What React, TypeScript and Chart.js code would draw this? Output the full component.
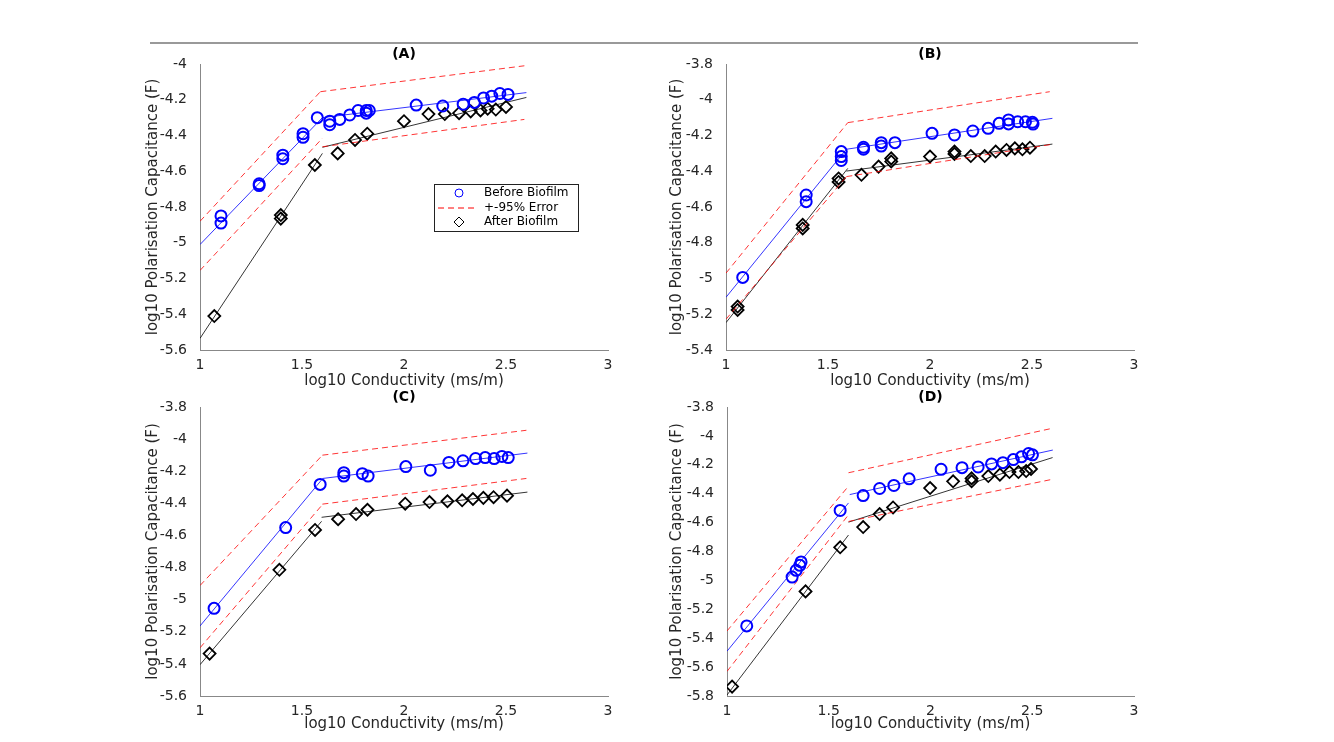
import React, { useEffect, useRef } from "react";
import { Chart, registerables } from "chart.js";
Chart.register(...registerables);

type P = [number, number];
// Panel A
const aBefore: P[] = [[1.103,-4.85],[1.103,-4.89],[1.29,-4.67],[1.29,-4.68],[1.406,-4.51],[1.406,-4.53],[1.505,-4.39],[1.505,-4.41],[1.575,-4.30],[1.636,-4.32],[1.636,-4.34],[1.685,-4.31],[1.734,-4.285],[1.775,-4.26],[1.815,-4.26],[1.815,-4.275],[1.83,-4.26],[2.06,-4.23],[2.19,-4.235],[2.29,-4.225],[2.345,-4.215],[2.39,-4.19],[2.43,-4.18],[2.47,-4.165],[2.51,-4.17]];
const aAfter: P[] = [[1.07,-5.41],[1.396,-4.865],[1.396,-4.845],[1.563,-4.565],[1.675,-4.50],[1.76,-4.425],[1.82,-4.39],[2.0,-4.32],[2.12,-4.28],[2.2,-4.28],[2.27,-4.275],[2.327,-4.265],[2.375,-4.26],[2.41,-4.25],[2.45,-4.255],[2.5,-4.24]];
const aBlueFit: P[] = [[1,-5.01],[1.6,-4.30],[1.6,-4.30],[2.6,-4.16]];
const aBlackFit: P[] = [[1,-5.535],[1.6,-4.50],[1.6,-4.466],[2.6,-4.187]];
const aRedUp: P[] = [[1,-4.88],[1.59,-4.155],[1.59,-4.155],[2.59,-4.01]];
const aRedLow: P[] = [[1,-5.155],[1.6,-4.415],[1.6,-4.463],[2.59,-4.31]];
// Panel B
const bBefore: P[] = [[1.082,-4.994],[1.393,-4.533],[1.393,-4.57],[1.565,-4.29],[1.565,-4.318],[1.565,-4.34],[1.674,-4.266],[1.674,-4.277],[1.761,-4.24],[1.761,-4.259],[1.828,-4.24],[2.01,-4.188],[2.12,-4.197],[2.21,-4.175],[2.285,-4.16],[2.339,-4.132],[2.385,-4.113],[2.385,-4.135],[2.43,-4.123],[2.468,-4.123],[2.502,-4.126],[2.505,-4.136]];
const bAfter: P[] = [[1.057,-5.157],[1.057,-5.176],[1.376,-4.70],[1.376,-4.72],[1.552,-4.44],[1.552,-4.46],[1.664,-4.42],[1.748,-4.374],[1.81,-4.346],[1.81,-4.328],[2.0,-4.318],[2.12,-4.29],[2.12,-4.303],[2.2,-4.315],[2.268,-4.315],[2.322,-4.29],[2.375,-4.281],[2.416,-4.272],[2.453,-4.277],[2.49,-4.268]];
const bBlueFit: P[] = [[1,-5.105],[1.59,-4.277],[1.59,-4.277],[2.6,-4.104]];
const bBlackFit: P[] = [[1,-5.247],[1.597,-4.384],[1.59,-4.399],[2.6,-4.248]];
const bRedUp: P[] = [[1,-4.97],[1.597,-4.128],[1.597,-4.128],[2.587,-3.955]];
const bRedLow: P[] = [[1,-5.228],[1.59,-4.43],[1.59,-4.43],[2.6,-4.249]];
// Panel C
const cBefore: P[] = [[1.069,-5.054],[1.42,-4.551],[1.589,-4.282],[1.705,-4.209],[1.705,-4.23],[1.796,-4.215],[1.824,-4.23],[2.009,-4.171],[2.129,-4.194],[2.22,-4.145],[2.289,-4.135],[2.351,-4.121],[2.398,-4.115],[2.442,-4.121],[2.48,-4.108],[2.511,-4.115]];
const cAfter: P[] = [[1.047,-5.336],[1.389,-4.814],[1.564,-4.566],[1.677,-4.499],[1.765,-4.467],[1.821,-4.44],[2.006,-4.402],[2.125,-4.392],[2.213,-4.387],[2.285,-4.381],[2.338,-4.373],[2.389,-4.366],[2.439,-4.362],[2.505,-4.352]];
const cBlueFit: P[] = [[1,-5.164],[1.602,-4.245],[1.602,-4.245],[2.605,-4.087]];
const cBlackFit: P[] = [[1,-5.405],[1.596,-4.512],[1.596,-4.487],[2.605,-4.33]];
const cRedUp: P[] = [[1,-4.912],[1.6,-4.10],[1.6,-4.10],[2.6,-3.945]];
const cRedLow: P[] = [[1,-5.30],[1.6,-4.408],[1.6,-4.405],[2.6,-4.245]];
// Panel D
const dBefore: P[] = [[1.097,-5.315],[1.32,-4.977],[1.34,-4.93],[1.358,-4.896],[1.364,-4.872],[1.556,-4.516],[1.669,-4.413],[1.75,-4.364],[1.82,-4.343],[1.895,-4.297],[2.052,-4.231],[2.155,-4.22],[2.234,-4.215],[2.3,-4.194],[2.356,-4.185],[2.407,-4.164],[2.447,-4.145],[2.482,-4.122],[2.501,-4.131]];
const dAfter: P[] = [[1.025,-5.735],[1.386,-5.076],[1.556,-4.771],[1.669,-4.631],[1.75,-4.541],[1.816,-4.495],[1.998,-4.361],[2.111,-4.314],[2.202,-4.294],[2.202,-4.314],[2.284,-4.278],[2.341,-4.268],[2.388,-4.25],[2.432,-4.25],[2.47,-4.243],[2.494,-4.229]];
const dBlueFit: P[] = [[1,-5.49],[1.597,-4.464],[1.603,-4.406],[2.601,-4.098]];
const dBlackFit: P[] = [[1,-5.793],[1.597,-4.686],[1.597,-4.597],[2.6,-4.15]];
const dRedUp: P[] = [[1,-5.35],[1.597,-4.348],[1.597,-4.255],[2.6,-3.947]];
const dRedLow: P[] = [[1,-5.63],[1.597,-4.546],[1.597,-4.592],[2.6,-4.30]];

const legendLabels = ["Before Biofilm", "+-95% Error", "After Biofilm"];
const xTitle = "log10 Conductivity (ms/m)";
const yTitle = "log10 Polarisation Capacitance (F)";

const toXY = (p: P[]) => p.map(([x, y]) => ({ x, y }));
const seg = (p: P[]) => [{ x: p[0][0], y: p[0][1] }, { x: p[1][0], y: p[1][1] }, { x: p[1][0], y: null }, { x: p[2][0], y: p[2][1] }, { x: p[3][0], y: p[3][1] }];

const FONT = "'DejaVu Sans', sans-serif";

interface PanelProps {
  title: string; left: number; top: number; width: number; height: number;
  plotLeft: number; plotTop: number; plotRight: number; plotBottom: number;
  yMin: number; yMax: number; before: P[]; after: P[]; blueFit: P[]; blackFit: P[]; redUp: P[]; redLow: P[]; legend?: boolean;
}

function Panel(p: PanelProps) {
  const ref = useRef<HTMLCanvasElement>(null);
  useEffect(() => {
    const yW = p.plotLeft - p.left;
    const xH = p.top + p.height - p.plotBottom;
    const lineDs = (d: P[], color: string, dash: number[], w: number) => ({
      type: "line" as const, data: seg(d) as any, borderColor: color, borderWidth: w, borderDash: dash, pointRadius: 0, spanGaps: false, fill: false,
    });
    const titlePlugin = {
      id: "ttl",
      afterDraw(chart: any) {
        const ctx = chart.ctx; const a = chart.chartArea;
        ctx.save();
        ctx.fillStyle = "#000"; ctx.font = `bold 14px ${FONT}`; ctx.textAlign = "center"; ctx.textBaseline = "bottom";
        ctx.fillText(p.title, (a.left + a.right) / 2, a.top - 3);
        if (p.legend) {
          const x0 = a.left + 234, y0 = a.top + 120, w = 144, h = 47;
          ctx.fillStyle = "#fff"; ctx.fillRect(x0, y0, w, h);
          ctx.strokeStyle = "#222"; ctx.lineWidth = 1; ctx.strokeRect(x0 + 0.5, y0 + 0.5, w, h);
          ctx.font = `12px ${FONT}`; ctx.textAlign = "left"; ctx.textBaseline = "middle"; ctx.fillStyle = "#000";
          const rows = [y0 + 9, y0 + 24, y0 + 38];
          legendLabels.forEach((l, i) => ctx.fillText(l, x0 + 50, rows[i]));
          ctx.strokeStyle = "#0000ff"; ctx.beginPath(); ctx.arc(x0 + 25, rows[0], 4, 0, Math.PI * 2); ctx.stroke();
          ctx.strokeStyle = "#ff0000"; ctx.setLineDash([6, 4]); ctx.beginPath(); ctx.moveTo(x0 + 4, rows[1]); ctx.lineTo(x0 + 44, rows[1]); ctx.stroke();
          ctx.setLineDash([]); ctx.strokeStyle = "#000"; ctx.beginPath();
          ctx.moveTo(x0 + 25, rows[2] - 5); ctx.lineTo(x0 + 30, rows[2]); ctx.lineTo(x0 + 25, rows[2] + 5); ctx.lineTo(x0 + 20, rows[2]); ctx.closePath(); ctx.stroke();
        }
        ctx.restore();
      },
    };
    const fmt = (v: any) => String(Math.round(Number(v) * 10) / 10);
    const chart = new Chart(ref.current!, {
      type: "scatter",
      data: {
        datasets: [
          { data: toXY(p.before), pointStyle: "circle", pointRadius: 5.5, borderColor: "#0000ff", backgroundColor: "rgba(0,0,0,0)", pointBorderWidth: 2 } as any,
          lineDs(p.redUp, "#ff0000", [6, 4], 0.8),
          lineDs(p.redLow, "#ff0000", [6, 4], 0.8),
          { data: toXY(p.after), pointStyle: "rectRot", pointRadius: 6, borderColor: "#000", backgroundColor: "rgba(0,0,0,0)", pointBorderWidth: 1.8 } as any,
          lineDs(p.blueFit, "#0000ff", [], 0.8),
          lineDs(p.blackFit, "#000", [], 0.8),
        ],
      },
      options: {
        animation: false, responsive: false, maintainAspectRatio: false,
        layout: { padding: { top: p.plotTop - p.top, right: p.left + p.width - p.plotRight, left: 0, bottom: 0 } },
        plugins: { legend: { display: false }, tooltip: { enabled: false } },
        scales: {
          x: {
            type: "linear", min: 1, max: 3,
            ticks: { stepSize: 0.5, callback: fmt, color: "#262626", font: { family: FONT, size: 14 }, padding: -1, maxRotation: 0 },
            grid: { display: false }, border: { display: true, color: "#888" },
            title: { display: true, text: xTitle, color: "#262626", font: { family: FONT, size: 15 }, padding: 0 },
            afterFit: (s: any) => { s.height = xH; },
          },
          y: {
            type: "linear", min: p.yMin, max: p.yMax,
            ticks: { stepSize: 0.2, callback: fmt, color: "#262626", font: { family: FONT, size: 14 }, padding: 5 },
            grid: { display: false }, border: { display: true, color: "#888" },
            title: { display: true, text: yTitle, color: "#262626", font: { family: FONT, size: 15 }, padding: 0 },
            afterFit: (s: any) => { s.width = yW; },
          },
        },
      } as any,
      plugins: [titlePlugin],
    });
    return () => chart.destroy();
  }, []);
  return (
    <canvas ref={ref} width={p.width} height={p.height}
      style={{ position: "absolute", left: p.left, top: p.top, width: p.width, height: p.height }} />
  );
}

export default function App() {
  return (
    <div style={{ position: "absolute", left: 0, top: 0, width: 1334, height: 742, background: "#fff", overflow: "hidden" }}>
      <div style={{ position: "absolute", left: 150, top: 42, width: 988, height: 2, background: "#999" }} />
      <Panel title="(A)" left={144} top={45} width={476} height={345} plotLeft={200} plotTop={64} plotRight={608} plotBottom={350}
        yMin={-5.6} yMax={-4} before={aBefore} after={aAfter} blueFit={aBlueFit} blackFit={aBlackFit} redUp={aRedUp} redLow={aRedLow} legend />
      <Panel title="(B)" left={668} top={45} width={478} height={345} plotLeft={726} plotTop={64} plotRight={1134} plotBottom={350}
        yMin={-5.4} yMax={-3.8} before={bBefore} after={bAfter} blueFit={bBlueFit} blackFit={bBlackFit} redUp={bRedUp} redLow={bRedLow} />
      <Panel title="(C)" left={144} top={388} width={476} height={345} plotLeft={200} plotTop={407} plotRight={608} plotBottom={696}
        yMin={-5.6} yMax={-3.8} before={cBefore} after={cAfter} blueFit={cBlueFit} blackFit={cBlackFit} redUp={cRedUp} redLow={cRedLow} />
      <Panel title="(D)" left={668} top={388} width={478} height={345} plotLeft={727} plotTop={407} plotRight={1134} plotBottom={696}
        yMin={-5.8} yMax={-3.8} before={dBefore} after={dAfter} blueFit={dBlueFit} blackFit={dBlackFit} redUp={dRedUp} redLow={dRedLow} />
    </div>
  );
}
